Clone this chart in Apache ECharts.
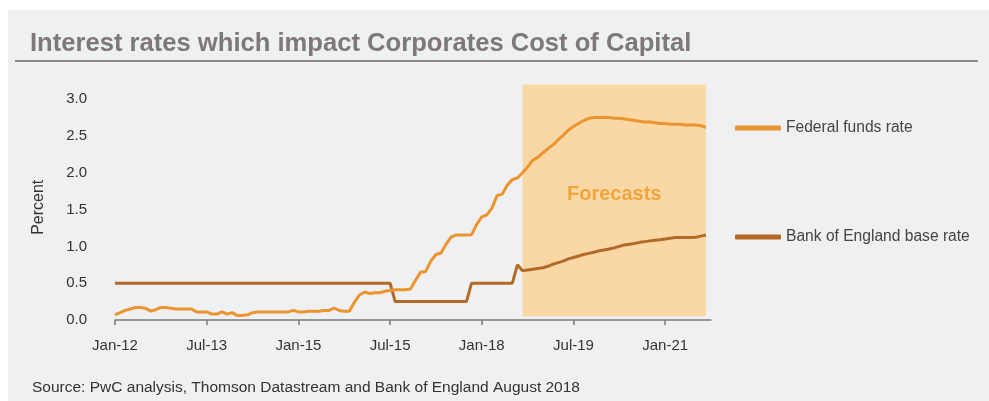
<!DOCTYPE html>
<html>
<head>
<meta charset="utf-8">
<script src="https://cdn.jsdelivr.net/npm/echarts@6/dist/echarts.min.js"></script>
<style>
html,body{margin:0;padding:0;background:#ffffff;}
#chart{width:989px;height:401px;}
</style>
</head>
<body>
<div id="chart"></div>
<script>
// ---- data ----
const monthNames = ['Jan','Feb','Mar','Apr','May','Jun','Jul','Aug','Sep','Oct','Nov','Dec'];
const categories = [];
for (let i = 0; i < 118; i++) categories.push(monthNames[i % 12] + '-' + (12 + Math.floor(i / 12)));

const tickLabels = ['Jan-12','Jul-13','Jan-15','Jul-15','Jan-18','Jul-19','Jan-21'];
const yTicks = [0, 0.5, 1.0, 1.5, 2.0, 2.5, 3.0];

const fedFunds = [
  0.07,0.10,0.13,0.15,0.17,0.17,0.16,0.12,0.14,0.17,0.17,0.16,
  0.15,0.15,0.15,0.15,0.11,0.11,0.11,0.08,0.08,0.11,0.08,0.10,
  0.06,0.06,0.07,0.10,0.11,0.11,0.11,0.11,0.11,0.11,0.11,0.13,
  0.11,0.11,0.12,0.12,0.12,0.13,0.13,0.16,0.13,0.12,0.12,0.24,
  0.34,0.38,0.36,0.37,0.37,0.39,0.40,0.41,0.41,0.41,0.42,0.54,
  0.65,0.66,0.80,0.89,0.91,1.03,1.13,1.155,1.155,1.155,1.16,1.30,
  1.40,1.43,1.52,1.69,1.71,1.83,1.91,1.93,2.00,2.08,2.17,2.21,
  2.27,2.33,2.38,2.45,2.51,2.58,2.63,2.67,2.71,2.74,2.75,2.75,
  2.75,2.75,2.74,2.74,2.73,2.72,2.71,2.70,2.69,2.69,2.68,2.67,
  2.67,2.66,2.66,2.66,2.65,2.65,2.65,2.64,2.62
];

const boeBase = [
  0.5,0.5,0.5,0.5,0.5,0.5,0.5,0.5,0.5,0.5,0.5,0.5,
  0.5,0.5,0.5,0.5,0.5,0.5,0.5,0.5,0.5,0.5,0.5,0.5,
  0.5,0.5,0.5,0.5,0.5,0.5,0.5,0.5,0.5,0.5,0.5,0.5,
  0.5,0.5,0.5,0.5,0.5,0.5,0.5,0.5,0.5,0.5,0.5,0.5,
  0.5,0.5,0.5,0.5,0.5,0.5,0.5,
  0.25,0.25,0.25,0.25,0.25,0.25,0.25,0.25,0.25,0.25,0.25,0.25,0.25,0.25,0.25,
  0.5,0.5,0.5,0.5,0.5,0.5,0.5,0.5,0.5,
  0.75,
  0.67,0.68,0.69,0.70,0.71,0.73,0.76,0.78,0.80,0.83,0.85,0.87,
  0.89,0.905,0.92,0.94,0.95,0.965,0.98,1.00,1.02,1.03,1.04,1.055,
  1.065,1.075,1.085,1.09,1.10,1.11,1.12,1.12,1.12,1.12,1.125,1.14,1.155
];

const forecastStart = 'Sep-18';
const forecastEnd = 'Sep-21';
const seriesNames = ['Federal funds rate', 'Bank of England base rate'];

// ---- chart ----
const chart = echarts.init(document.getElementById('chart'), null, {renderer: 'canvas'});
const font = 'Liberation Sans, Arial, Helvetica, sans-serif';
const tickStep = 18;

chart.setOption({
  animation: false,
  backgroundColor: '#ffffff',
  textStyle: {fontFamily: font},
  graphic: [
    {type: 'rect', z: -10, silent: true, shape: {x: 8, y: 10, width: 981, height: 391}, style: {fill: '#eef0f2'}},
    {type: 'line', silent: true, shape: {x1: 15, y1: 61, x2: 978, y2: 61}, style: {stroke: '#8e8888', lineWidth: 2}}
  ],
  title: [
    {text: 'Interest rates which impact Corporates Cost of Capital', left: 25, top: 26,
     textStyle: {fontFamily: font, fontSize: 25.6, fontWeight: 'bold', color: '#7e7878'}},
    {text: 'Source: PwC analysis, Thomson Datastream and Bank of England August 2018', left: 27, top: 375,
     textStyle: {fontFamily: font, fontSize: 15.5, fontWeight: 'normal', color: '#333333'}}
  ],
  legend: [
    {data: [seriesNames[0]], left: 730, top: 115, icon: 'roundRect', itemWidth: 46, itemHeight: 5,
     selectedMode: false, textStyle: {fontFamily: font, fontSize: 15.6, color: '#444444', padding: [0,0,0,0]}},
    {data: [seriesNames[1]], left: 730, top: 224, icon: 'roundRect', itemWidth: 46, itemHeight: 5,
     selectedMode: false, textStyle: {fontFamily: font, fontSize: 15.6, color: '#444444', padding: [0,0,0,0]}}
  ],
  grid: {left: 115, right: 278, top: 84.5, bottom: 81, containLabel: false},
  xAxis: {
    type: 'category',
    data: categories,
    boundaryGap: false,
    offset: 3,
    axisLine: {lineStyle: {color: '#7a7a7a', width: 1.5}},
    axisTick: {interval: (i) => i % tickStep === 0, length: 5, lineStyle: {color: '#7a7a7a', width: 1.5}},
    axisLabel: {
      interval: (i) => i % tickStep === 0,
      formatter: (v, i) => tickLabels[i / tickStep] || '',
      margin: 15, fontSize: 15, color: '#333333', fontFamily: font
    },
    splitLine: {show: false}
  },
  yAxis: {
    type: 'value',
    min: 0, max: 3.2, interval: 0.5,
    name: 'Percent', nameLocation: 'middle', nameGap: 68, nameRotate: 90,
    nameTextStyle: {fontSize: 16, color: '#333333', fontFamily: font, padding: [0, 10, 0, 0]},
    axisLine: {show: false}, axisTick: {show: false}, splitLine: {show: false},
    axisLabel: {
      showMaxLabel: false,
      formatter: (v) => yTicks.indexOf(v) >= 0 ? v.toFixed(1) : '',
      margin: 28, fontSize: 15, color: '#333333', fontFamily: font
    }
  },
  series: [
    {
      name: seriesNames[1], type: 'line', data: boeBase, symbol: 'none', z: 3,
      lineStyle: {color: '#b46a27', width: 3}, itemStyle: {color: '#b46a27'},
      markArea: {
        silent: true,
        itemStyle: {color: '#f9d8a5'},
        label: {show: true, position: 'inside', offset: [0, -6], color: '#f0a53e', fontSize: 20, fontWeight: 'bold', fontFamily: font},
        data: [[{name: 'Forecasts', xAxis: forecastStart, yAxis: 0.05}, {xAxis: forecastEnd, yAxis: 3.2}]]
      }
    },
    {
      name: seriesNames[0], type: 'line', data: fedFunds, symbol: 'none', z: 4,
      lineStyle: {color: '#ec9430', width: 3}, itemStyle: {color: '#ec9430'}
    }
  ]
});
</script>
</body>
</html>
